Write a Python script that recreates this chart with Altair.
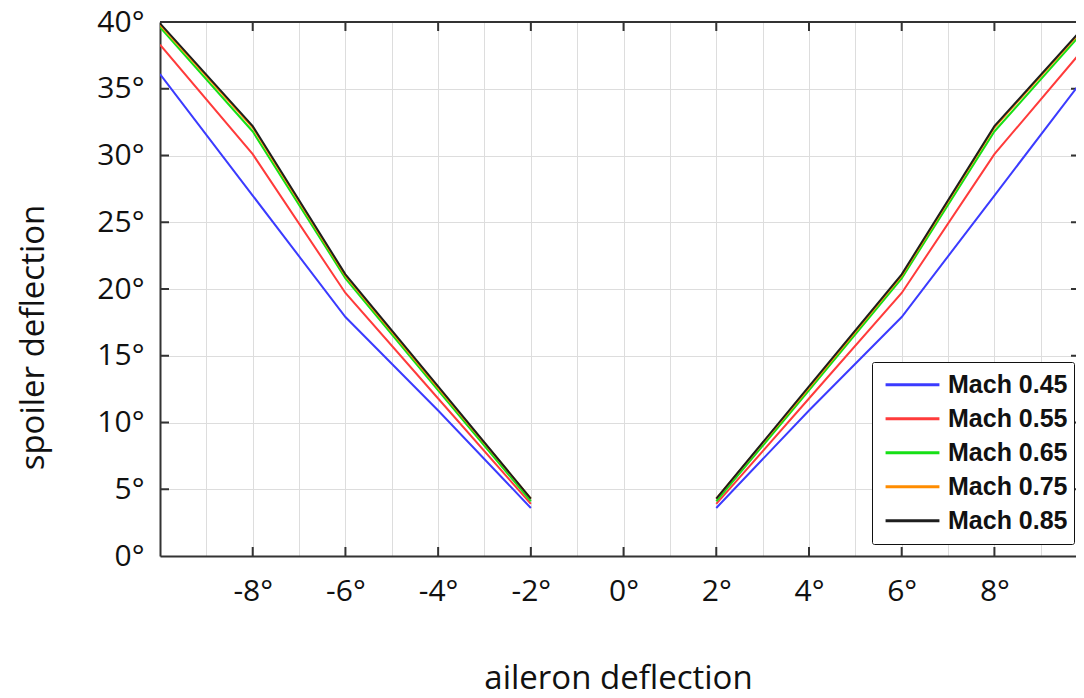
import altair as alt
import pandas as pd

# aileron deflection points (left and right branches)
x_left = [-10, -8, -6, -4, -2]
x_right = [2, 4, 6, 8, 10]

series_names = ["Mach 0.45", "Mach 0.55", "Mach 0.65", "Mach 0.75", "Mach 0.85"]
series_colors = ["#3b3bff", "#ff3b3b", "#16e016", "#ff8c00", "#1e1e1e"]

# spoiler deflection values on the left branch (x = -10 .. -2)
mach045_left = [36.1, 27.0, 17.9, 10.9, 3.6]
mach055_left = [38.3, 30.1, 19.7, 11.8, 3.9]
mach065_left = [39.6, 31.8, 20.8, 12.4, 4.1]
mach075_left = [39.8, 32.1, 21.0, 12.6, 4.3]
mach085_left = [39.9, 32.2, 21.1, 12.7, 4.3]

# right branch (x = 2 .. 10)
mach045_right = [3.6, 10.9, 17.9, 27.0, 36.1]
mach055_right = [3.9, 11.8, 19.7, 30.1, 38.3]
mach065_right = [4.1, 12.4, 20.8, 31.8, 39.6]
mach075_right = [4.3, 12.6, 21.0, 32.1, 39.8]
mach085_right = [4.3, 12.7, 21.1, 32.2, 39.9]

left_vals = [mach045_left, mach055_left, mach065_left, mach075_left, mach085_left]
right_vals = [mach045_right, mach055_right, mach065_right, mach075_right, mach085_right]

x_grid = list(range(-10, 11))
y_grid = [i * 2.5 for i in range(17)]
x_tick_marks = [-8, -6, -4, -2, 0, 2, 4, 6, 8]
y_tick_marks = [5, 10, 15, 20, 25, 30, 35]

rows = []
for name, lv, rv in zip(series_names, left_vals, right_vals):
    for x, y in zip(x_left, lv):
        rows.append({"series": name, "branch": "L", "aileron": x, "spoiler": y})
    for x, y in zip(x_right, rv):
        rows.append({"series": name, "branch": "R", "aileron": x, "spoiler": y})
df = pd.DataFrame(rows)

# The reference plot runs past the right edge of the picture (x = 10 is just off-screen)
W, H = 916, 534
FONT = "Open Sans"
FRAME = "#333333"

xscale = alt.Scale(domain=[-10, 9.76], nice=False, zero=False)
yscale = alt.Scale(domain=[0, 40], nice=False, zero=False)

lines = alt.Chart(df).mark_line(strokeWidth=2, clip=True).encode(
    x=alt.X("aileron:Q", scale=xscale,
            axis=alt.Axis(values=x_grid, title="aileron deflection",
                          labelExpr="(datum.value % 2 == 0 && abs(datum.value) < 10) ? datum.value + '°' : ''",
                          ticks=False, domain=True, domainColor=FRAME, domainWidth=2,
                          labelPadding=20,
                          labelFontSize=30, labelFont=FONT, labelColor="#111",
                          titleFont=FONT, titleFontSize=33, titleFontWeight="normal",
                          titleColor="#111", titleY=132, titleBaseline="alphabetic")),
    y=alt.Y("spoiler:Q", scale=yscale,
            axis=alt.Axis(values=y_grid, title="spoiler deflection",
                          labelExpr="(datum.value % 5 == 0) ? datum.value + '°' : ''",
                          ticks=False, domain=True, domainColor=FRAME, domainWidth=2,
                          labelPadding=16,
                          labelFontSize=30, labelFont=FONT, labelColor="#111",
                          titleFont=FONT, titleFontSize=33, titleFontWeight="normal",
                          titleColor="#111", titleX=-127, titleY=315,
                          titleBaseline="middle", titleAlign="center")),
    color=alt.Color("series:N",
                    scale=alt.Scale(domain=series_names, range=series_colors),
                    legend=alt.Legend(title=None, orient="none", legendX=712, legendY=340,
                                      symbolType="stroke", symbolSize=2900,
                                      symbolStrokeWidth=3, clipHeight=33.5,
                                      rowPadding=0, padding=6, symbolOffset=6,
                                      labelOffset=7,
                                      labelFont="Liberation Sans", labelFontWeight="bold",
                                      labelFontSize=25, labelColor="#111",
                                      strokeColor="#111", fillColor="white",
                                      cornerRadius=2)),
    detail="branch:N",
    order=alt.Order("aileron:Q"),
)

xt = pd.DataFrame({"tx": x_tick_marks})
yt = pd.DataFrame({"ty": y_tick_marks})
tick_style = dict(color=FRAME, strokeWidth=2)

xtick_bottom = alt.Chart(xt).mark_rule(**tick_style).encode(
    x=alt.X("tx:Q", scale=xscale), y=alt.value(H), y2=alt.value(H - 9))
xtick_top = alt.Chart(xt).mark_rule(**tick_style).encode(
    x=alt.X("tx:Q", scale=xscale), y=alt.value(0), y2=alt.value(9))
ytick_left = alt.Chart(yt).mark_rule(**tick_style).encode(
    y=alt.Y("ty:Q", scale=yscale), x=alt.value(0), x2=alt.value(9))
ytick_right = alt.Chart(yt).mark_rule(**tick_style).encode(
    y=alt.Y("ty:Q", scale=yscale), x=alt.value(W - 5), x2=alt.value(W))
top_border = alt.Chart(xt).mark_rule(color=FRAME, strokeWidth=2).encode(
    y=alt.value(0), x=alt.value(0), x2=alt.value(W))

chart = alt.layer(top_border, xtick_bottom, xtick_top, ytick_left, ytick_right, lines).properties(
    width=W, height=H,
    autosize=alt.AutoSizeParams(type="none"),
    padding={"left": 152, "top": 14, "right": 0, "bottom": 134},
).configure_view(
    stroke=None
).configure_axis(
    gridColor="#a8a8a8", gridDash=[2, 2], gridWidth=1
).configure_legend(
    strokeWidth=2.5
).configure(background="white")

chart.save("out.html", embed_options={"renderer": "svg", "actions": False})
